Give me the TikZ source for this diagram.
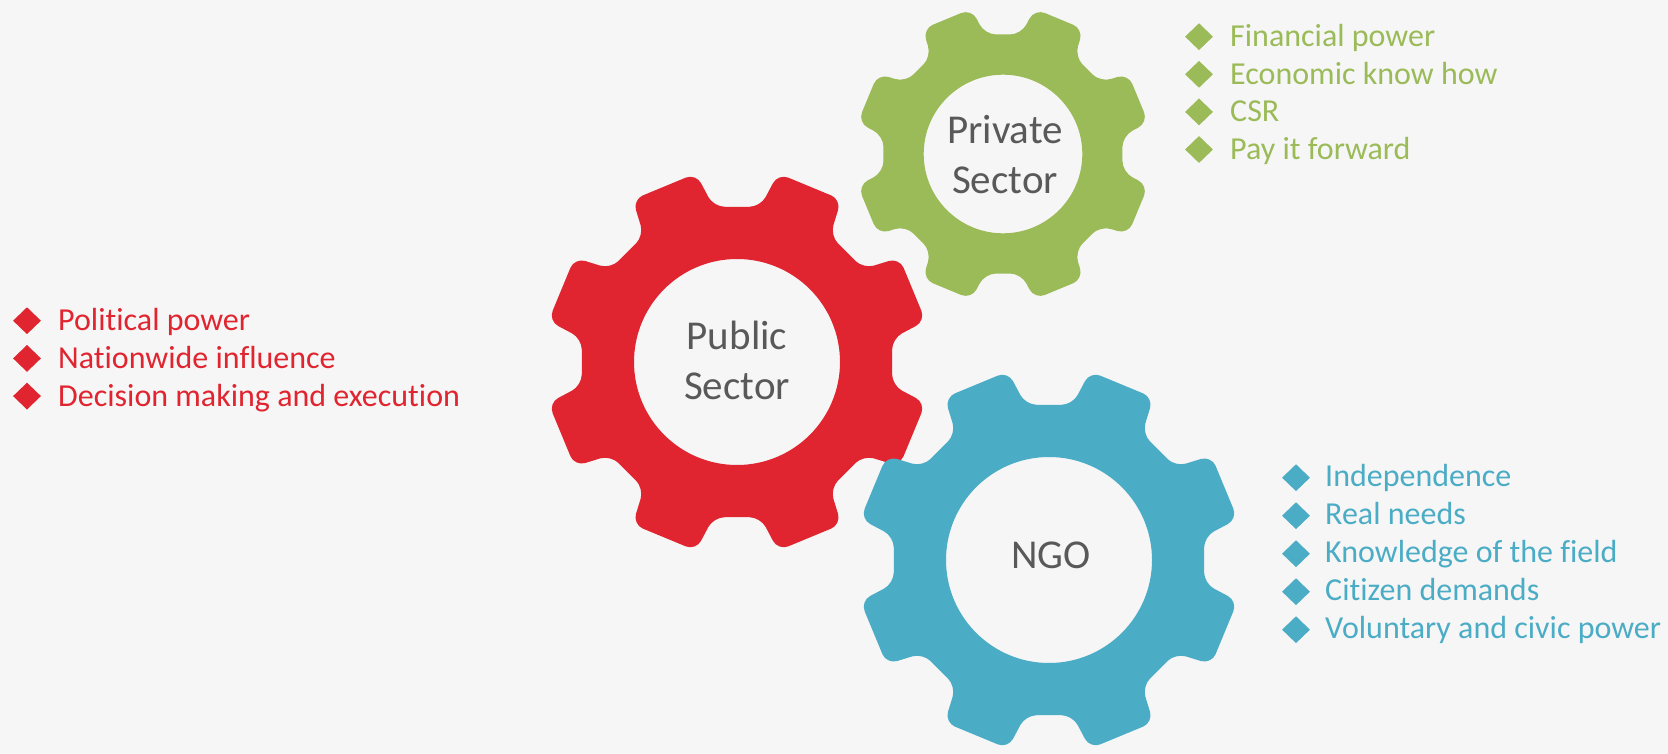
\documentclass[tikz,border=0pt]{standalone}
\usepackage{fontspec}
\setmainfont[Ligatures=NoCommon]{Carlito}
\usetikzlibrary{positioning}
\usetikzlibrary{shapes.geometric}
\definecolor{pubred}{RGB}{225,37,48}
\definecolor{privgreen}{RGB}{155,187,89}
\definecolor{ngoblue}{RGB}{75,172,198}
\definecolor{labelgray}{RGB}{89,89,89}
\definecolor{paper}{RGB}{246,246,246}
\tikzset{
  gear/.pic     = {\fill[even odd rule, rounded corners=11pt] (0:155)
                     \foreach \a in {22.5,67.5,...,337.5} {
                       -- ({\a-13.9}:157) -- ({\a-10.2}:193)
                       -- ({\a+10.2}:193) -- ({\a+13.9}:157)
                     } -- cycle
                     (0,0) circle (103);},
  sector/.style = {font=\fontsize{41}{50}\selectfont, text=labelgray, align=center},
  item/.style   = {anchor=base west, inner sep=0pt,
                   font=\fontsize{32}{37.7}\selectfont, text=#1},
  bullet/.style = {diamond, fill=#1, inner sep=0pt,
                   minimum width=28pt, minimum height=27pt}
}
\begin{document}
\begin{tikzpicture}[x=1pt, y=1pt]
  \useasboundingbox (0,0) rectangle (1668,-754);
  \fill[paper] (0,0) rectangle (1668,-754);

  % the three gears
  \pic[fill=privgreen, scale=0.77] (privg) at (1003,-154) {gear};
  \pic[fill=pubred] (pubg) at (737,-362) {gear};
  \pic[fill=ngoblue] (ngog) at (1049,-560) {gear};
  \node[sector] (priv) at (1005,-155) {Private\\Sector};
  \node[sector] (pub) at (737,-360) {Public\\Sector};
  \node[sector, anchor=base] (ngo) at (1051,-568) {NGO};

  % public sector
  \node[item=pubred] (pub1) at (58,-330.7) {Political power};
  \node[item=pubred] (pub2) at ([yshift=-37.7]pub1.base west) {Nationwide influence};
  \node[item=pubred] (pub3) at ([yshift=-37.7]pub2.base west) {Decision making and execution};
  \node[bullet=pubred] (pubd1) at ([xshift=-31,yshift=10]pub1.base west) {};
  \node[bullet=pubred] (pubd2) at ([xshift=-31,yshift=10]pub2.base west) {};
  \node[bullet=pubred] (pubd3) at ([xshift=-31,yshift=10]pub3.base west) {};

  % private sector
  \node[item=privgreen] (priv1) at (1230,-46.7) {Financial power};
  \node[item=privgreen] (priv2) at ([yshift=-37.6]priv1.base west) {Economic know how};
  \node[item=privgreen] (priv3) at ([yshift=-37.6]priv2.base west) {CSR};
  \node[item=privgreen] (priv4) at ([yshift=-37.6]priv3.base west) {Pay it forward};
  \node[bullet=privgreen] (privd1) at ([xshift=-31,yshift=10]priv1.base west) {};
  \node[bullet=privgreen] (privd2) at ([xshift=-31,yshift=10]priv2.base west) {};
  \node[bullet=privgreen] (privd3) at ([xshift=-31,yshift=10]priv3.base west) {};
  \node[bullet=privgreen] (privd4) at ([xshift=-31,yshift=10]priv4.base west) {};

  % ngo
  \node[item=ngoblue] (ngo1) at (1325,-486.7) {Independence};
  \node[item=ngoblue] (ngo2) at ([yshift=-38]ngo1.base west) {Real needs};
  \node[item=ngoblue] (ngo3) at ([yshift=-38]ngo2.base west) {Knowledge of the field};
  \node[item=ngoblue] (ngo4) at ([yshift=-38]ngo3.base west) {Citizen demands};
  \node[item=ngoblue] (ngo5) at ([yshift=-38]ngo4.base west) {Voluntary and civic power};
  \node[bullet=ngoblue] (ngod1) at ([xshift=-29,yshift=9]ngo1.base west) {};
  \node[bullet=ngoblue] (ngod2) at ([xshift=-29,yshift=9]ngo2.base west) {};
  \node[bullet=ngoblue] (ngod3) at ([xshift=-29,yshift=9]ngo3.base west) {};
  \node[bullet=ngoblue] (ngod4) at ([xshift=-29,yshift=9]ngo4.base west) {};
  \node[bullet=ngoblue] (ngod5) at ([xshift=-29,yshift=9]ngo5.base west) {};
\end{tikzpicture}
\end{document}
